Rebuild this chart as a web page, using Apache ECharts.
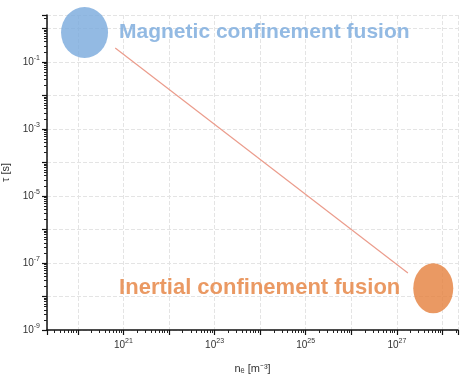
<!DOCTYPE html>
<html>
<head>
<meta charset="utf-8">
<script src="https://cdn.jsdelivr.net/npm/echarts@6/dist/echarts.min.js"></script>
<style>
  html, body { margin: 0; padding: 0; background: #ffffff; }
  #chart { width: 461px; height: 377px; }
</style>
</head>
<body>
<div id="chart"></div>
<script>
// Confinement time versus density: the Lawson-type trend line (n·τ ≈ const)
const trendDensity = [6.6e20, 1.75e27];      // n [m^-3]
const trendTime = [0.26, 5.0e-8];            // τ [s]

// The two fusion approaches
const regimeNames = ['Magnetic confinement fusion', 'Inertial confinement fusion'];
const regimeDensity = [1.4e20, 6.3e27];
const regimeTime = [0.75, 1.75e-8];
const regimeColors = ['#78a9dc', '#e57f3c'];

// Axis ranges
const xRange = [2.1e19, 2.2e28];
const yRange = [1e-9, 2.5];

function expLabel(value, onlyOdd) {
  const e = Math.log10(value);
  const r = Math.round(e);
  if (Math.abs(e - r) > 1e-6) return '';
  if (onlyOdd && Math.abs(r % 2) !== 1) return '';
  return '{b|10}{s|' + r + '}';
}

const labelRich = {
  b: { fontSize: 10, color: '#333', fontFamily: 'Liberation Sans, Arial, sans-serif' },
  s: { fontSize: 7, color: '#333', verticalAlign: 'top', padding: [0, 0, 7, 0],
       fontFamily: 'Liberation Sans, Arial, sans-serif' }
};

const chart = echarts.init(document.getElementById('chart'), null, { renderer: 'canvas' });

chart.setOption({
  animation: false,
  backgroundColor: '#ffffff',
  grid: { left: 47, right: 3, top: 15, bottom: 47, containLabel: false, outerBoundsMode: 'none' },
  xAxis: {
    type: 'log',
    logBase: 10,
    min: xRange[0],
    max: xRange[1],
    name: 'nₑ [m⁻³]',
    nameLocation: 'middle',
    nameGap: 33,
    nameTextStyle: { fontSize: 11, color: '#333', fontFamily: 'Liberation Sans, Arial, sans-serif' },
    axisLine: { lineStyle: { color: '#111', width: 1.5 } },
    axisTick: { show: true, inside: false, length: 5, lineStyle: { color: '#111', width: 1.2 } },
    minorTick: { show: true, splitNumber: 9, length: 3, lineStyle: { color: '#222', width: 1 } },
    axisLabel: {
      showMinLabel: false, showMaxLabel: false, margin: 8,
      formatter: v => expLabel(v, true), rich: labelRich
    },
    splitLine: { show: true, lineStyle: { color: '#e4e4e4', width: 1, type: 'dashed' } }
  },
  yAxis: {
    type: 'log',
    logBase: 10,
    min: yRange[0],
    max: yRange[1],
    name: 'τ [s]',
    nameLocation: 'middle',
    nameGap: 33,
    nameRotate: 90,
    nameTextStyle: { fontSize: 11, color: '#333', fontFamily: 'Liberation Sans, Arial, sans-serif' },
    axisLine: { lineStyle: { color: '#111', width: 1.5 } },
    axisTick: { show: true, inside: false, length: 5, lineStyle: { color: '#111', width: 1.2 } },
    minorTick: { show: true, splitNumber: 9, length: 3, lineStyle: { color: '#222', width: 1 } },
    axisLabel: {
      showMaxLabel: false, margin: 7,
      formatter: v => expLabel(v, true), rich: labelRich
    },
    splitLine: { show: true, lineStyle: { color: '#e4e4e4', width: 1, type: 'dashed' } }
  },
  series: [
    {
      type: 'line',
      data: trendDensity.map((n, i) => [n, trendTime[i]]),
      symbol: 'none',
      lineStyle: { color: '#eb9c8c', width: 1.2 },
      z: 2
    },
    {
      type: 'scatter',
      data: regimeNames.map((name, i) => ({
        name: name,
        value: [regimeDensity[i], regimeTime[i]],
        symbolSize: i === 0 ? [47, 51] : [40, 50],
        itemStyle: { color: regimeColors[i] },
        label: {
          show: true,
          position: i === 0 ? 'right' : 'left',
          distance: i === 0 ? 11 : 13,
          formatter: '{b}',
          color: regimeColors[i],
          fontSize: i === 0 ? 21 : 22,
          fontWeight: 'bold',
          fontFamily: 'Liberation Sans, Arial, sans-serif'
        }
      })),
      z: 3
    }
  ]
});
</script>
</body>
</html>
